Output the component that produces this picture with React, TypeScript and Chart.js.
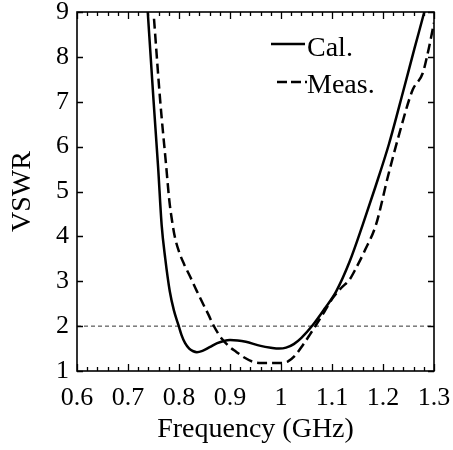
import { useEffect, useRef } from "react";
import { Chart, registerables } from "chart.js";

Chart.register(...registerables);

// ---- data ----
const calFreq = [
  0.737, 0.75, 0.759, 0.766, 0.773, 0.782, 0.79, 0.799, 0.805, 0.812, 0.82, 0.828, 0.835, 0.846,
  0.86, 0.875, 0.888, 0.9, 0.915, 0.931, 0.96, 0.98, 0.996, 1.01, 1.025, 1.04, 1.062, 1.085,
  1.108, 1.135, 1.16, 1.185, 1.212, 1.24, 1.262, 1.281, 1.29,
];
const calVswr = [
  9.3, 7.04, 5.55, 4.25, 3.51, 2.77, 2.35, 2.02, 1.8, 1.62, 1.5, 1.44, 1.42, 1.45,
  1.53, 1.62, 1.67, 1.69, 1.68, 1.65, 1.56, 1.52, 1.5, 1.52, 1.6, 1.74, 2.02, 2.38,
  2.77, 3.45, 4.25, 5.1, 6.07, 7.25, 8.2, 9.0, 9.4,
];
const measFreq = [
  0.751, 0.763, 0.775, 0.781, 0.787, 0.792, 0.8, 0.81, 0.822, 0.835, 0.847, 0.858, 0.867,
  0.876, 0.884, 0.898, 0.912, 0.928, 0.944, 0.96, 0.984, 1.0, 1.013, 1.028, 1.043, 1.056,
  1.069, 1.085, 1.101, 1.118, 1.134, 1.147, 1.165, 1.186, 1.21, 1.232, 1.258, 1.278, 1.29, 1.3,
];
const measVswr = [
  8.85, 7.04, 5.55, 4.8, 4.3, 3.98, 3.66, 3.38, 3.1, 2.78, 2.5, 2.25, 2.03,
  1.85, 1.72, 1.55, 1.43, 1.3, 1.21, 1.18, 1.18, 1.18, 1.21, 1.35, 1.58, 1.8,
  2.03, 2.32, 2.62, 2.85, 3.03, 3.29, 3.7, 4.25, 5.35, 6.29, 7.26, 7.64, 8.2, 8.76,
];
const refFreq = [0.6, 1.3];
const refVswr = [2, 2];

const xTicks = [0.6, 0.7, 0.8, 0.9, 1.0, 1.1, 1.2, 1.3];
const yTicks = [1, 2, 3, 4, 5, 6, 7, 8, 9];
const xMinorPerMajor = 5;

const seriesLabels = ["Cal.", "Meas."];
const xTitle = "Frequency (GHz)";
const yTitle = "VSWR";

const FONT = '"Liberation Serif", "Times New Roman", serif';

const framePlugin = {
  id: "frameTicksLegend",
  afterDraw(chart: any) {
    const ctx: CanvasRenderingContext2D = chart.ctx;
    const a = chart.chartArea;
    const xs = chart.scales.x;
    const ys = chart.scales.y;
    ctx.save();
    ctx.setLineDash([]);
    ctx.strokeStyle = "#000";
    ctx.lineWidth = 1.6;
    ctx.strokeRect(a.left, a.top, a.right - a.left, a.bottom - a.top);

    // ticks
    ctx.lineWidth = 1.3;
    for (let i = 0; i < xTicks.length; i++) {
      const v0 = xTicks[i];
      const last = i === xTicks.length - 1;
      const steps = last ? 1 : xMinorPerMajor;
      for (let k = 0; k < steps; k++) {
        const v = last ? v0 : v0 + ((xTicks[i + 1] - v0) * k) / xMinorPerMajor;
        const px = Math.round(xs.getPixelForValue(v)) + 0.5;
        const len = k === 0 ? 7 : 4;
        ctx.beginPath();
        ctx.moveTo(px, a.bottom);
        ctx.lineTo(px, a.bottom - len);
        ctx.moveTo(px, a.top);
        ctx.lineTo(px, a.top + len);
        ctx.stroke();
      }
    }
    for (const v of yTicks) {
      const py = Math.round(ys.getPixelForValue(v)) + 0.5;
      ctx.beginPath();
      ctx.moveTo(a.left, py);
      ctx.lineTo(a.left + 6, py);
      ctx.moveTo(a.right, py);
      ctx.lineTo(a.right - 6, py);
      ctx.stroke();
    }

    // legend
    ctx.font = `28px ${FONT}`;
    ctx.fillStyle = "#000";
    ctx.textAlign = "left";
    ctx.textBaseline = "alphabetic";
    ctx.lineWidth = 2.5;
    ctx.beginPath();
    ctx.moveTo(271, 44);
    ctx.lineTo(305, 44);
    ctx.stroke();
    ctx.fillText(seriesLabels[0], 307, 56);
    ctx.setLineDash([10, 4]);
    ctx.beginPath();
    ctx.moveTo(277, 82);
    ctx.lineTo(307, 82);
    ctx.stroke();
    ctx.setLineDash([]);
    ctx.fillText(seriesLabels[1], 307, 93);
    ctx.restore();
  },
};

export default function App() {
  const ref = useRef<HTMLCanvasElement | null>(null);
  useEffect(() => {
    if (!ref.current) return;
    const toPts = (xs: number[], ys: number[]) => xs.map((x, i) => ({ x, y: ys[i] }));
    const chart = new Chart(ref.current, {
      type: "line",
      data: {
        datasets: [
          {
            label: seriesLabels[0],
            data: toPts(calFreq, calVswr),
            borderColor: "#000",
            borderWidth: 2.5,
            pointRadius: 0,
            cubicInterpolationMode: "monotone",
            fill: false,
          },
          {
            label: seriesLabels[1],
            data: toPts(measFreq, measVswr),
            borderColor: "#000",
            borderWidth: 2.5,
            borderDash: [10, 5],
            pointRadius: 0,
            cubicInterpolationMode: "monotone",
            fill: false,
          },
          {
            label: "ref",
            data: toPts(refFreq, refVswr),
            borderColor: "#333",
            borderWidth: 1,
            borderDash: [4, 3],
            pointRadius: 0,
            fill: false,
          },
        ],
      },
      options: {
        animation: false,
        responsive: false,
        devicePixelRatio: 1,
        layout: { padding: { left: 0, top: 12, right: 19, bottom: 0 } },
        plugins: { legend: { display: false }, tooltip: { enabled: false } },
        scales: {
          x: {
            type: "linear",
            min: 0.6,
            max: 1.3,
            afterBuildTicks: (s: any) => {
              s.ticks = xTicks.map((v) => ({ value: v }));
            },
            afterFit: (s: any) => {
              s.height = 79;
              s.paddingLeft = 0;
              s.paddingRight = 0;
            },
            grid: { display: false, drawTicks: false },
            border: { display: false },
            ticks: {
              padding: 12,
              color: "#000",
              maxRotation: 0,
              autoSkip: false,
              font: { family: FONT, size: 26 },
              callback: (v: any) => String(Math.round(Number(v) * 10) / 10),
            },
            title: {
              display: true,
              text: xTitle,
              color: "#000",
              font: { family: FONT, size: 28 },
              padding: { top: 0, bottom: 4 },
            },
          },
          y: {
            type: "linear",
            min: 1,
            max: 9,
            afterBuildTicks: (s: any) => {
              s.ticks = yTicks.map((v) => ({ value: v }));
            },
            afterFit: (s: any) => {
              s.width = 77;
              s.paddingTop = 0;
              s.paddingBottom = 0;
            },
            grid: { display: false, drawTicks: false },
            border: { display: false },
            ticks: {
              padding: 8,
              color: "#000",
              autoSkip: false,
              font: { family: FONT, size: 26 },
            },
            title: {
              display: true,
              text: yTitle,
              color: "#000",
              font: { family: FONT, size: 28 },
              padding: { top: 6, bottom: 0 },
            },
          },
        },
      },
      plugins: [framePlugin],
    });
    return () => chart.destroy();
  }, []);
  return (
    <div style={{ position: "fixed", left: 0, top: 0, width: 453, height: 450, background: "#fff" }}>
      <canvas ref={ref} width={453} height={450} style={{ width: 453, height: 450 }} />
    </div>
  );
}
